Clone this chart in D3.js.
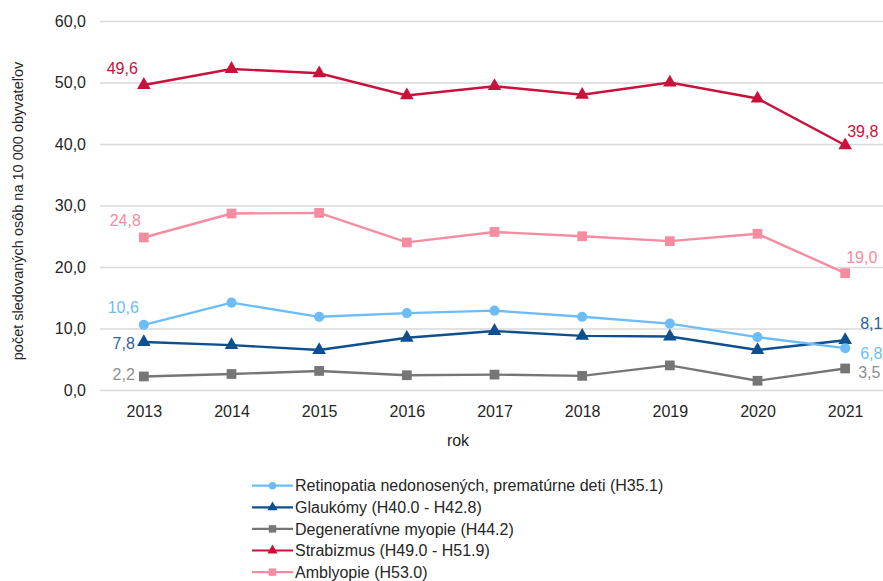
<!DOCTYPE html>
<html lang="sk">
<head>
<meta charset="UTF-8">
<script src="https://d3js.org/d3.v7.min.js"></script>
<style>
  body { margin: 0; background: #fff; }
  text { font-family: "Liberation Sans", Arial, sans-serif; }
</style>
</head>
<body>
<script>
// data
var years = ["2013", "2014", "2015", "2016", "2017", "2018", "2019", "2020", "2021"];
var seriesNames = [
    "Retinopatia nedonosených, prematúrne deti (H35.1)",
    "Glaukómy (H40.0 - H42.8)",
    "Degeneratívne myopie (H44.2)",
    "Strabizmus (H49.0 - H51.9)",
    "Amblyopie (H53.0)"
];
var retinopatia = [10.6, 14.2, 11.9, 12.5, 12.9, 11.9, 10.8, 8.6, 6.8];
var glaukomy    = [7.8, 7.3, 6.5, 8.5, 9.6, 8.8, 8.7, 6.5, 8.1];
var myopie      = [2.2, 2.6, 3.1, 2.4, 2.5, 2.3, 4.0, 1.5, 3.5];
var strabizmus  = [49.6, 52.2, 51.5, 47.9, 49.4, 48.0, 50.0, 47.4, 39.8];
var amblyopie   = [24.8, 28.7, 28.8, 24.0, 25.7, 25.0, 24.2, 25.4, 19.0];
var yTicks = [0, 10, 20, 30, 40, 50, 60];

var colors  = ["#6cbdf7", "#0d4f8f", "#767676", "#c8123c", "#f58ca0"];
var labelColors = ["#6cbdf7", "#2a62a0", "#8f8f8f", "#c8123c", "#f58ca0"];
var symbols = [d3.symbolCircle, d3.symbolTriangle, d3.symbolSquare, d3.symbolTriangle, d3.symbolSquare];
var values = [retinopatia, glaukomy, myopie, strabizmus, amblyopie];

var width = 883, height = 581;
var margin = {top: 21, right: -6, bottom: 191, left: 100};

var svg = d3.select("body").append("svg")
    .attr("width", width)
    .attr("height", height);

var x = d3.scalePoint()
    .domain(years)
    .range([margin.left, width - margin.right])
    .padding(0.5);

var y = d3.scaleLinear()
    .domain([0, 60])
    .range([height - margin.bottom, margin.top]);

var fmt = function(v) { return d3.format(".1f")(v).replace(".", ","); };

// grid + y labels
var yAxis = d3.axisLeft(y)
    .tickValues(yTicks)
    .tickSize(-(width - margin.right - margin.left))
    .tickPadding(14)
    .tickFormat(fmt);

svg.append("g")
    .attr("transform", "translate(" + margin.left + ",0)")
    .call(yAxis)
    .call(function(g) {
        g.select(".domain").remove();
        g.selectAll(".tick line").attr("stroke", "#d9d9d9").attr("stroke-width", 1.3);
        g.selectAll(".tick text").attr("fill", "#262626").style("font-size", "16px");
    });

var xAxis = d3.axisBottom(x).tickSize(0).tickPadding(16);
svg.append("g")
    .attr("transform", "translate(0," + y(0) + ")")
    .call(xAxis)
    .call(function(g) {
        g.select(".domain").remove();
        g.selectAll(".tick text").attr("fill", "#262626").style("font-size", "16px");
    });

svg.append("text")
    .attr("x", 458).attr("y", 446)
    .attr("text-anchor", "middle")
    .attr("fill", "#262626")
    .style("font-size", "16px")
    .text("rok");

svg.append("text")
    .attr("transform", "translate(23,211) rotate(-90)")
    .attr("text-anchor", "middle")
    .attr("fill", "#262626")
    .style("font-size", "14.5px")
    .text("počet sledovaných osôb na 10 000 obyvateľov");

var line = d3.line()
    .x(function(d, i) { return x(years[i]); })
    .y(function(d) { return y(d); });

// draw red/pink first so blues sit on top the way they do in the picture
var order = [3, 4, 2, 1, 0];
order.forEach(function(s) {
    var g = svg.append("g");
    g.append("path")
        .datum(values[s])
        .attr("fill", "none")
        .attr("stroke", colors[s])
        .attr("stroke-width", 2.4)
        .attr("d", line);
    g.selectAll("path.pt")
        .data(values[s])
        .enter().append("path")
        .attr("class", "pt")
        .attr("transform", function(d, i) { return "translate(" + x(years[i]) + "," + y(d) + ")"; })
        .attr("d", d3.symbol().type(symbols[s]).size(symbols[s] === d3.symbolSquare ? 95 : 80))
        .attr("fill", colors[s]);
});

// first/last value labels: [dx, dy, anchor] offsets from point
var firstLab = [[-5, -17, "end"], [-9, 1, "end"], [-9, -2, "end"], [-6, -17, "end"], [-3, -17, "end"]];
var lastLab  = [[15, 5, "start"], [15, -17, "start"], [13, 4, "start"], [2, -14, "start"], [1, -16, "start"]];
values.forEach(function(v, s) {
    var n = v.length - 1;
    [[0, firstLab[s]], [n, lastLab[s]]].forEach(function(p) {
        var i = p[0], o = p[1];
        svg.append("text")
            .attr("x", x(years[i]) + o[0])
            .attr("y", y(v[i]) + o[1])
            .attr("dy", "0.35em")
            .attr("text-anchor", o[2])
            .attr("fill", labelColors[s])
            .style("font-size", "16px")
            .text(fmt(v[i]));
    });
});

// legend
var legend = svg.append("g").attr("transform", "translate(252,485.7)");
seriesNames.forEach(function(name, s) {
    var row = legend.append("g").attr("transform", "translate(0," + (s * 21.6) + ")");
    row.append("line")
        .attr("x1", 0).attr("x2", 41)
        .attr("stroke", colors[s]).attr("stroke-width", 2.2);
    row.append("path")
        .attr("transform", "translate(20.5,0)")
        .attr("d", d3.symbol().type(symbols[s]).size(symbols[s] === d3.symbolSquare ? 55 : 45))
        .attr("fill", colors[s]);
    row.append("text")
        .attr("x", 43).attr("dy", "0.35em")
        .attr("fill", "#262626")
        .style("font-size", "16px")
        .text(name);
});
</script>
</body>
</html>
